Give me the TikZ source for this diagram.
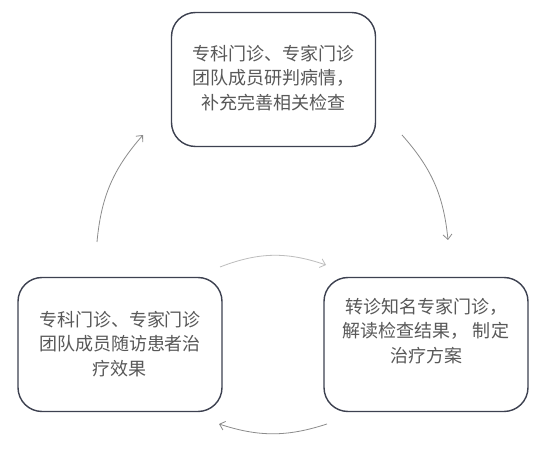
\documentclass[tikz,border=0pt]{standalone}
\usepackage{fontspec}
\newfontfamily\cjk{Noto Sans CJK SC}
\usetikzlibrary{arrows.meta}
\definecolor{boxline}{HTML}{3D4150}
\definecolor{txt}{HTML}{585858}
\definecolor{arr}{HTML}{8C8C8C}
\definecolor{arrlight}{HTML}{BDBDBD}
\begin{document}
\begin{tikzpicture}[x=1pt,y=-1pt,
  stagebox/.style={draw=boxline, line width=1.4pt, rounded corners=24pt, minimum width=204pt, minimum height=134pt, inner sep=0pt},
  stagetext/.style={text=txt, font=\cjk\fontsize{18}{24.5}\selectfont, align=center, inner sep=0pt},
  flow/.style={draw=arr, line width=0.8pt, -{Straight Barb[length=5pt,width=9pt]}}]
\useasboundingbox (0,0) rectangle (547,454);
\fill[white] (0,0) rectangle (547,454);
\node[stagebox] (top) at (273.5,79.5) {};
\node[stagebox] (left) at (120,344.5) {};
\node[stagebox] (right) at (426,344.5) {};
\node[stagetext] (toptext) at (273,78) {专科门诊、专家门诊\\团队成员研判病情，\\补充完善相关检查};
\node[stagetext] (lefttext) at (120,344) {专科门诊、专家门诊\\团队成员随访患者治\\疗效果};
\node[stagetext] (righttext) at (426,331) {转诊知名专家门诊，\\解读检查结果， 制定\\治疗方案};
\coordinate (a1s) at (97,242);
\coordinate (a1e) at (143,135);
\coordinate (a2s) at (402,135);
\coordinate (a2e) at (448,240);
\coordinate (a3s) at (220,267);
\coordinate (a3e) at (326,265);
\coordinate (a4s) at (327,424);
\coordinate (a4e) at (219,424);
\draw[flow] (a1s) to[bend left=18] (a1e);
\draw[flow] (a2s) to[bend left=18] (a2e);
\draw[flow, draw=arrlight] (a3s) to[bend left=20] (a3e);
\draw[flow] (a4s) to[bend left=18] (a4e);
\end{tikzpicture}
\end{document}
